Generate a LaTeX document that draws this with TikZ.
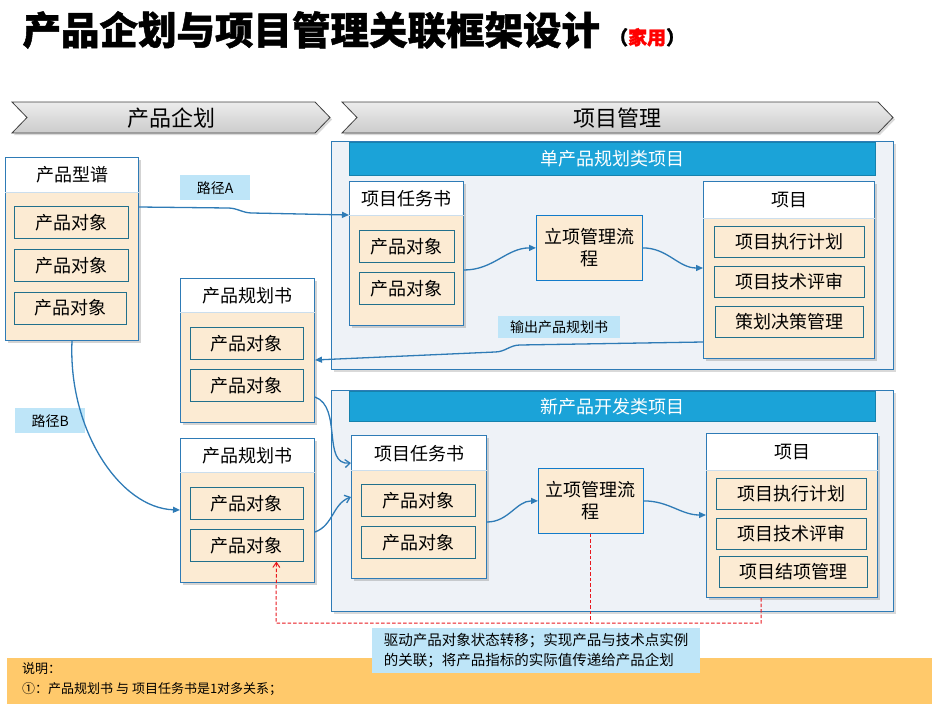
\documentclass[tikz,border=0pt]{standalone}
\usepackage{fontspec}
\setmainfont{Noto Sans CJK SC}
\newfontfamily\titlefont[BoldFeatures={FakeBold=1.2}]{Noto Sans CJK SC}
\usetikzlibrary{arrows.meta, positioning, shadows}

\definecolor{cardblue}{HTML}{2E7BB6}
\definecolor{objteal}{HTML}{22708C}
\definecolor{bodybeige}{HTML}{FCEBD3}
\definecolor{framefill}{HTML}{EEF2F7}
\definecolor{headbar}{HTML}{1BA3D8}
\definecolor{tagblue}{HTML}{BEE5F8}
\definecolor{noteorange}{HTML}{FFC96B}
\definecolor{feedred}{HTML}{E8181E}

\begin{document}
\begin{tikzpicture}[
  x=1pt, y=-1pt,
  font=\fontsize{18}{22}\selectfont,
  card/.style={rectangle, draw=cardblue, line width=1pt, fill=bodybeige, anchor=north west,
    drop shadow={opacity=0.35, shadow xshift=2pt, shadow yshift=-2pt}},
  cardhead/.style={rectangle, fill=white, anchor=north, inner sep=0pt},
  headline/.style={draw=cardblue!25, line width=0.8pt},
  obj/.style={rectangle, draw=objteal, line width=0.8pt, fill=bodybeige, minimum height=32, inner sep=0pt},
  process/.style={rectangle, draw=cyan!60!blue, line width=0.8pt, fill=bodybeige, anchor=north west, align=center},
  frame/.style={rectangle, draw=cardblue, line width=1pt, fill=framefill, anchor=north west,
    drop shadow={opacity=0.3, shadow xshift=2pt, shadow yshift=-2pt}},
  bar/.style={rectangle, draw=headbar!80!black, line width=0.6pt, fill=headbar, text=white, anchor=north west,
    minimum width=526, font=\fontsize{18}{20}\selectfont},
  tag/.style={rectangle, fill=tagblue, anchor=north west, font=\fontsize{14}{16}\selectfont},
  tab/.style={draw=black!75, line width=0.8pt, top color=gray!15, bottom color=gray!40,
    drop shadow={opacity=0.3, shadow xshift=2pt, shadow yshift=-2pt}},
  flow/.style={draw=cardblue, line width=1.3pt, -{Triangle[length=7pt, width=6pt]}},
  open/.style={draw=cardblue, line width=1.3pt, -{Straight Barb[length=5pt, width=8pt]}},
  feedback/.style={draw=feedred, line width=1pt, dash pattern=on 3.5pt off 2pt, -{Straight Barb[length=5pt, width=7pt]}}
]
\useasboundingbox (0,0) rectangle (932,704);

% Title
\node[anchor=west, font=\titlefont\bfseries\fontsize{38.5}{40}\selectfont] (title) at (19,30) {产品企划与项目管理关联框架设计};
\node[anchor=base west, font=\titlefont\bfseries\fontsize{19}{20}\selectfont, xshift=2pt] (title-note) at (title.base east) {（\textcolor{red}{家用}）};

% Tabs
\path[tab] (12,102) -- (315,102) -- (330,117.5) -- (315,133) -- (12,133) -- (27,117.5) -- cycle;
\node[font=\fontsize{22}{24}\selectfont] (plan-tab) at (171,118) {产品企划};
\path[tab] (342,102) -- (878,102) -- (893,117.5) -- (878,133) -- (342,133) -- (357,117.5) -- cycle;
\node[font=\fontsize{22}{24}\selectfont] (proj-tab) at (617,118) {项目管理};

% Product series
\node[card, minimum width=133, minimum height=183] (series) at (5,157) {};
\node[cardhead, minimum width=132, minimum height=34] (series-head) at ([yshift=-0.5pt]series.north) {产品型谱};
\draw[headline] ([yshift=-35pt]series.north west) -- ([yshift=-35pt]series.north east);
\node[obj, anchor=north west, minimum width=114] (series-a) at (14,206) {产品对象};
\node[obj, minimum width=114, below=10pt of series-a] (series-b) {产品对象};
\node[obj, minimum width=112, below=10pt of series-b, xshift=-1pt] (series-c) {产品对象};

% Product plans
\node[card, minimum width=134, minimum height=144] (plan1) at (180,278) {};
\node[cardhead, minimum width=133, minimum height=34] (plan1-head) at ([yshift=-0.5pt]plan1.north) {产品规划书};
\draw[headline] ([yshift=-34pt]plan1.north west) -- ([yshift=-34pt]plan1.north east);
\node[obj, anchor=north west, minimum width=113] (plan1-a) at (190,327) {产品对象};
\node[obj, minimum width=113, below=9pt of plan1-a] (plan1-b) {产品对象};

\node[card, minimum width=134, minimum height=144] (plan2) at (180,438) {};
\node[cardhead, minimum width=133, minimum height=34] (plan2-head) at ([yshift=-0.5pt]plan2.north) {产品规划书};
\draw[headline] ([yshift=-34pt]plan2.north west) -- ([yshift=-34pt]plan2.north east);
\node[obj, anchor=north west, minimum width=113] (plan2-a) at (190,487) {产品对象};
\node[obj, minimum width=113, below=9pt of plan2-a] (plan2-b) {产品对象};

% Single product planning projects
\node[frame, minimum width=562, minimum height=228] (frame1) at (331,141) {};
\node[bar, minimum height=33] (bar1) at (349,142) {单产品规划类项目};

\node[card, minimum width=114, minimum height=144] (task1) at (349,181) {};
\node[cardhead, minimum width=113, minimum height=34] (task1-head) at ([yshift=-0.5pt]task1.north) {项目任务书};
\draw[headline] ([yshift=-34pt]task1.north west) -- ([yshift=-34pt]task1.north east);
\node[obj, anchor=north west, minimum width=95] (task1-a) at (359,230) {产品对象};
\node[obj, minimum width=95, below=9pt of task1-a] (task1-b) {产品对象};

\node[process, minimum width=106, minimum height=65] (setup1) at (536,215) {立项管理流\\程};

\node[card, minimum width=171, minimum height=177] (proj1) at (703,181) {};
\node[cardhead, minimum width=170, minimum height=36] (proj1-head) at ([yshift=-0.5pt]proj1.north) {项目};
\draw[headline] ([yshift=-37pt]proj1.north west) -- ([yshift=-37pt]proj1.north east);
\node[obj, anchor=north west, minimum width=150, minimum height=31] (proj1-a) at (714,226) {项目执行计划};
\node[obj, minimum width=150, minimum height=31, below=8pt of proj1-a] (proj1-b) {项目技术评审};
\node[obj, minimum width=148, minimum height=31, below=8pt of proj1-b] (proj1-c) {策划决策管理};

% New product development projects
\node[frame, minimum width=562, minimum height=221] (frame2) at (331,390) {};
\node[bar, minimum height=30] (bar2) at (349,391) {新产品开发类项目};

\node[card, minimum width=135, minimum height=143] (task2) at (351,435) {};
\node[cardhead, minimum width=134, minimum height=35] (task2-head) at ([yshift=-0.5pt]task2.north) {项目任务书};
\draw[headline] ([yshift=-35pt]task2.north west) -- ([yshift=-35pt]task2.north east);
\node[obj, anchor=north west, minimum width=114] (task2-a) at (361,484) {产品对象};
\node[obj, minimum width=114, below=9pt of task2-a] (task2-b) {产品对象};

\node[process, minimum width=105, minimum height=65] (setup2) at (538,468) {立项管理流\\程};

\node[card, minimum width=171, minimum height=164] (proj2) at (706,433) {};
\node[cardhead, minimum width=170, minimum height=36] (proj2-head) at ([yshift=-0.5pt]proj2.north) {项目};
\draw[headline] ([yshift=-37pt]proj2.north west) -- ([yshift=-37pt]proj2.north east);
\node[obj, anchor=north west, minimum width=150, minimum height=31] (proj2-a) at (716,478) {项目执行计划};
\node[obj, minimum width=150, minimum height=31, below=8pt of proj2-a] (proj2-b) {项目技术评审};
\node[obj, minimum width=148, minimum height=31, below=6pt of proj2-b, xshift=2pt] (proj2-c) {项目结项管理};

% Labels
\node[tag, minimum width=70, minimum height=25] (path-a) at (180,175) {路径A};
\node[tag, minimum width=70, minimum height=25] (path-b) at (15,408) {路径B};
\node[tag, minimum width=122, minimum height=22] (output-tag) at (498,316) {输出产品规划书};

% Arrows
\draw[flow] ([yshift=-50pt]series.north east) -- (228,208) to[out=0, in=180] (252,213) -- ([yshift=-34pt]task1.north west);
\draw[flow] (series.south) .. controls (68,430) and (120,508) .. ([yshift=-72pt]plan2.north west);
\draw[flow] ([yshift=-161pt]proj1.north west) -- (520,345) to[out=180, in=0] (495,352) -- ([yshift=-82pt]plan1.north east);
\draw[open] ([yshift=-119pt]plan1.north east) to[out=-20, in=185] ([yshift=-28pt]task2.north west);
\draw[open] ([yshift=-94pt]plan2.north east) to[out=20, in=200] ([yshift=-62pt]task2.north west);
\draw[flow] ([yshift=-89pt]task1.north east) to[out=0, in=180] (setup1.west);
\draw[flow] (setup1.east) to[out=0, in=180] ([yshift=-87pt]proj1.north west);
\draw[flow] ([yshift=-87pt]task2.north east) to[out=0, in=180] (setup2.west);
\draw[flow] (setup2.east) to[out=0, in=180] ([yshift=-82pt]proj2.north west);

% Feedback to product planning
\coordinate (fb-corner) at (276,623);
\draw[feedback] ([xshift=-31pt]proj2.south) |- (fb-corner) -- ([xshift=29.5pt]plan2-b.south);
\draw[feedback, -] (setup2.south) -- (setup2.south |- fb-corner);

% Note
\fill[noteorange] (7,658) rectangle (932,704);
\node[anchor=north west, align=left, inner sep=0pt, font=\fontsize{13}{20}\selectfont] (note) at (22,662) {说明：\\①：产品规划书 与 项目任务书是1对多关系；};
\node[tag, minimum width=328, minimum height=45, align=left, inner sep=5pt, font=\fontsize{14.5}{20}\selectfont] (caption) at (372,628) {驱动产品对象状态转移；实现产品与技术点实例\\的关联；将产品指标的实际值传递给产品企划};

\end{tikzpicture}
\end{document}
